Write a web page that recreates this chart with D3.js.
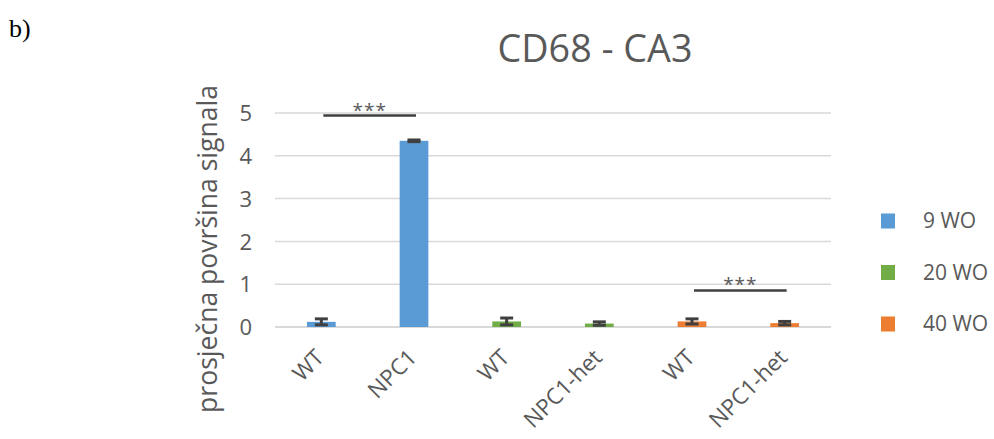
<!DOCTYPE html>
<html>
<head>
<meta charset="utf-8">
<script src="https://cdn.jsdelivr.net/npm/d3@7"></script>
<style>
  html, body { margin: 0; padding: 0; background: #ffffff; }
  svg { display: block; }
  text { font-family: "Open Sans", "DejaVu Sans", sans-serif; fill: #595959; }
</style>
</head>
<body>
<svg id="chart" width="994" height="439"></svg>
<script>
// Bar categories (one bar per group/genotype) and their series
const categories = ["WT", "NPC1", "WT", "NPC1-het", "WT", "NPC1-het"];
const barSeries  = ["9 WO", "9 WO", "20 WO", "20 WO", "40 WO", "40 WO"];
const values     = [0.12, 4.35, 0.13, 0.08, 0.13, 0.09];
const errors     = [0.07, 0.02, 0.08, 0.04, 0.06, 0.04];

const seriesNames  = ["9 WO", "20 WO", "40 WO"];
const seriesColors = ["#5B9BD5", "#70AD47", "#ED7D31"];

const yTicks = [0, 1, 2, 3, 4, 5];

// Significance brackets: from / to bar index, height in data units
const sigFrom   = [0, 4];
const sigTo     = [1, 5];
const sigLevel  = [4.94, 0.855];
const sigLabels = ["***", "***"];

const svg = d3.select("#chart");

const plot = { left: 275, right: 831, top: 113, bottom: 327 };

const x = d3.scaleBand()
  .domain(d3.range(categories.length))
  .range([plot.left, plot.right])
  .paddingInner(0.69)
  .paddingOuter(0.345);

const y = d3.scaleLinear()
  .domain([0, 5])
  .range([plot.bottom, plot.top]);

const color = d3.scaleOrdinal().domain(seriesNames).range(seriesColors);

// Shrinks/grows a text node's font so its rendered length hits a target width
function fitWidth(sel, target) {
  const node = sel.node();
  const fs = parseFloat(sel.attr("font-size"));
  const len = node.getComputedTextLength();
  sel.attr("font-size", (fs * target / len).toFixed(2));
  return sel;
}

// Panel label
svg.append("text")
  .attr("x", 9).attr("y", 37)
  .attr("font-size", 26)
  .style("font-family", "'Liberation Serif', 'Times New Roman', serif")
  .style("fill", "#000")
  .text("b)");

// Title
fitWidth(svg.append("text")
  .attr("x", 595).attr("y", 62)
  .attr("text-anchor", "middle")
  .attr("font-size", 37)
  .text("CD68 - CA3"), 195);

// Gridlines
svg.append("g")
  .selectAll("line")
  .data(yTicks)
  .join("line")
  .attr("x1", plot.left).attr("x2", plot.right)
  .attr("y1", d => y(d)).attr("y2", d => y(d))
  .attr("stroke", "#d9d9d9")
  .attr("stroke-width", d => d === 0 ? 2 : 1.5);

// Y axis labels
const yAxis = svg.append("g")
  .attr("transform", `translate(${plot.left - 23},0)`)
  .call(d3.axisLeft(y).tickValues(yTicks).tickSize(0).tickPadding(0).tickFormat(d3.format("d")));
yAxis.select(".domain").remove();
yAxis.selectAll("text")
  .attr("font-size", 22)
  .attr("dy", "0.35em")
  .style("font-family", "'Open Sans', sans-serif")
  .style("fill", "#595959");

// Y axis title
fitWidth(svg.append("text")
  .attr("transform", "translate(217,249) rotate(-90)")
  .attr("text-anchor", "middle")
  .attr("font-size", 22)
  .text("prosječna površina signala"), 328);

// Bars
svg.append("g")
  .selectAll("rect")
  .data(values)
  .join("rect")
  .attr("x", (d, i) => x(i))
  .attr("width", x.bandwidth())
  .attr("y", d => y(d))
  .attr("height", d => y(0) - y(d))
  .attr("fill", (d, i) => color(barSeries[i]));

// Error bars
const capW = 13;
const eb = svg.append("g")
  .attr("stroke", "#404040")
  .attr("stroke-width", 3)
  .selectAll("g")
  .data(values)
  .join("g");
eb.append("line")
  .attr("x1", (d, i) => x(i) + x.bandwidth() / 2)
  .attr("x2", (d, i) => x(i) + x.bandwidth() / 2)
  .attr("y1", (d, i) => y(d + errors[i]))
  .attr("y2", (d, i) => y(Math.max(0, d - errors[i])));
eb.append("line")
  .attr("x1", (d, i) => x(i) + x.bandwidth() / 2 - capW / 2)
  .attr("x2", (d, i) => x(i) + x.bandwidth() / 2 + capW / 2)
  .attr("y1", (d, i) => y(d + errors[i]))
  .attr("y2", (d, i) => y(d + errors[i]));
eb.append("line")
  .attr("x1", (d, i) => x(i) + x.bandwidth() / 2 - capW / 2)
  .attr("x2", (d, i) => x(i) + x.bandwidth() / 2 + capW / 2)
  .attr("y1", (d, i) => y(Math.max(0, d - errors[i])))
  .attr("y2", (d, i) => y(Math.max(0, d - errors[i])));

// Significance brackets
const cx = i => x(i) + x.bandwidth() / 2;
const sig = svg.append("g")
  .selectAll("g")
  .data(sigLabels)
  .join("g");
sig.append("line")
  .attr("x1", (d, k) => cx(sigFrom[k]) + 2)
  .attr("x2", (d, k) => cx(sigTo[k]) + 2)
  .attr("y1", (d, k) => y(sigLevel[k]))
  .attr("y2", (d, k) => y(sigLevel[k]))
  .attr("stroke", "#404040")
  .attr("stroke-width", 2.5);
sig.append("text")
  .attr("x", (d, k) => (cx(sigFrom[k]) + cx(sigTo[k])) / 2 + 2)
  .attr("y", (d, k) => y(sigLevel[k]) + 1)
  .attr("text-anchor", "middle")
  .attr("font-size", 19)
  .attr("letter-spacing", 1)
  .text(d => d);

// X category labels, rotated
svg.append("g")
  .selectAll("text")
  .data(categories)
  .join("text")
  .attr("transform", (d, i) => `translate(${cx(i) + 4},${plot.bottom + 32}) rotate(-45)`)
  .attr("text-anchor", "end")
  .attr("font-size", 22.5)
  .text(d => d);

// Legend
const legend = svg.append("g")
  .selectAll("g")
  .data(seriesNames)
  .join("g")
  .attr("transform", (d, i) => `translate(881,${221 + i * 51.5})`);
legend.append("rect")
  .attr("x", 0).attr("y", -7.5)
  .attr("width", 14).attr("height", 15)
  .attr("fill", d => color(d));
legend.append("text")
  .attr("x", 42).attr("y", 0)
  .attr("dy", "0.35em")
  .attr("font-size", 21)
  .text(d => d);
</script>
</body>
</html>
